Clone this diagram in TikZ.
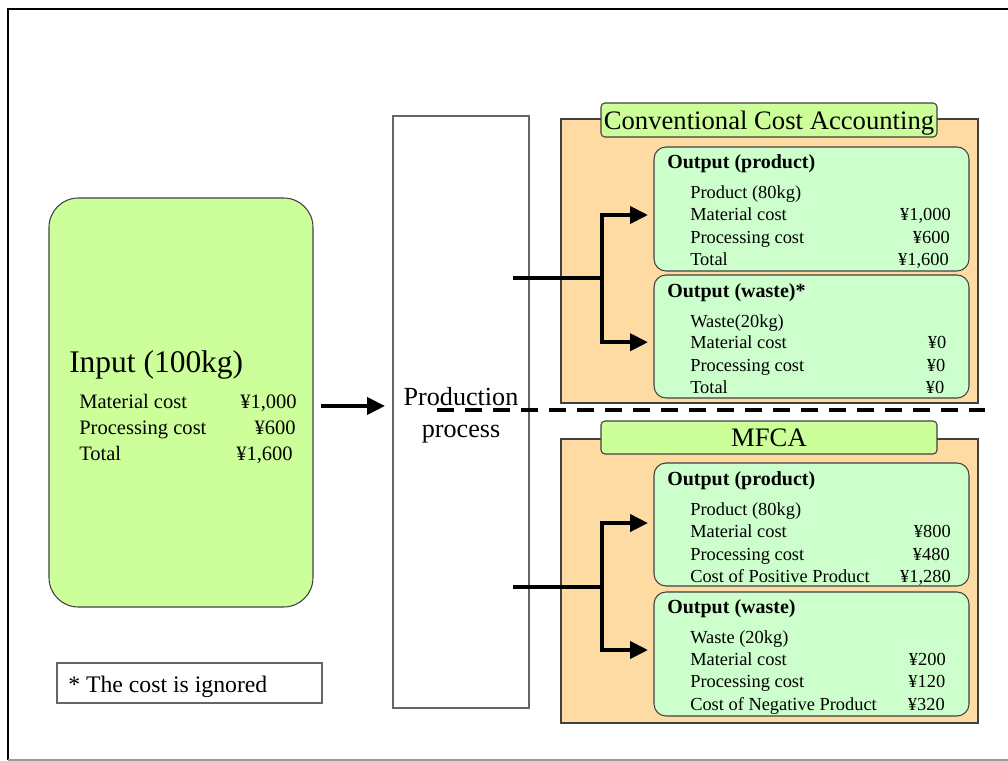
\documentclass[tikz,border=0pt]{standalone}
\usepackage{fontspec}
\setmainfont{Liberation Serif}
\usetikzlibrary{arrows.meta}
\definecolor{ingreen}{HTML}{CCFF99}
\definecolor{outgreen}{HTML}{CCFFCC}
\definecolor{peach}{HTML}{FFDBA4}
\definecolor{edge}{HTML}{404040}
\newcommand\fsz[1]{\fontsize{#1}{#1}\selectfont}
% one line of a cost list: label on the left, amount flush right
% optional argument: style prefix (row -> rowl/rowr, inrow -> inrowl/inrowr)
\newcommand\costrow[7][row]{%
  \node[#1l] (#2l) at (#3,#5) {#6};
  \node[#1r] (#2v) at (#4,#5) {#7};}
\begin{document}
\begin{tikzpicture}[x=0.75pt,y=-0.75pt,
  box/.style={draw=edge, line width=0.8pt, inner sep=0pt, outer sep=0pt, anchor=center},
  inputbox/.style={box, fill=ingreen, rounded corners=22pt},
  procbox/.style={box, draw=black!60, fill=white},
  panel/.style={box, fill=peach},
  tabbox/.style={box, fill=ingreen, rounded corners=3pt},
  outbox/.style={box, fill=outgreen, rounded corners=9pt},
  notebox/.style={box, draw=black!60, fill=white},
  rowl/.style={anchor=base west, inner sep=0pt, font=\fsz{13.8}},
  rowr/.style={anchor=base east, inner sep=0pt, font=\fsz{13.8}},
  inrowl/.style={anchor=base west, inner sep=0pt, font=\fsz{15.4}},
  inrowr/.style={anchor=base east, inner sep=0pt, font=\fsz{15.4}},
  outtitle/.style={anchor=base west, inner sep=0pt, font=\fsz{15}\bfseries},
  tabtitle/.style={anchor=base, inner sep=0pt, font=\fsz{20}},
  conn/.style={line width=3pt},
  arr/.style={conn, -{Triangle[length=13.5pt,width=12.75pt]}},
  divider/.style={line width=3pt, dash pattern=on 12.75pt off 8.25pt},
]
\path[use as bounding box] (0,0) rectangle (1008,761);
\clip (0,0) rectangle (1008,761);

% page frame
\draw[line width=2pt] (1020,9) -- (8,9) -- (8,760);
\draw[line width=1pt, black!40] (8,760) -- (1020,760);

% input and process
\node[inputbox, minimum width=198pt, minimum height=306.75pt] (inp) at (181,402.5) {};
\node[procbox, minimum width=102pt, minimum height=444pt] (prod) at (461,412) {};

% the two accounting panels with their title tabs
\node[panel, minimum width=312.75pt, minimum height=213pt] (convpanel) at (769.5,261) {};
\node[panel, minimum width=312.75pt, minimum height=213pt] (mfcapanel) at (769.5,581) {};
\node[tabbox, minimum width=252pt, minimum height=25.5pt] (convtab) at (769,120) {};
\node[tabbox, minimum width=252pt, minimum height=24.75pt] (mfcatab) at (769,437.5) {};

% output boxes
\node[outbox, minimum width=236.25pt, minimum height=93pt] (cprod) at (811.5,209) {};
\node[outbox, minimum width=236.25pt, minimum height=92.25pt] (cwaste) at (811.5,336.5) {};
\node[outbox, minimum width=236.25pt, minimum height=92.25pt] (mprod) at (811.5,524.5) {};
\node[outbox, minimum width=236.25pt, minimum height=93pt] (mwaste) at (811.5,654) {};

% footnote
\node[notebox, minimum width=198.75pt, minimum height=30pt] (note) at (189.5,683) {};
\node[anchor=base west, inner sep=0pt, font=\fsz{17.8}] (notetext) at (68,692) {* The cost is ignored};

% flows
\draw[arr, shorten <=6pt, shorten >=6pt] ([yshift=-2.6pt]inp.east) -- ([yshift=-2.6pt]inp.east -| prod.west);

\coordinate (cs) at (513,278);
\coordinate (cj) at (602,278);
\draw[conn] (cs) -- (cj);
\draw[arr, shorten >=4.5pt] (cj) |- ([yshift=-4.5pt]cprod.west);
\draw[arr, shorten >=4.5pt] (cj) |- ([yshift=-4.3pt]cwaste.west);

\coordinate (ms) at (513,587);
\coordinate (mj) at (602,587);
\draw[conn] (ms) -- (mj);
\draw[arr, shorten >=4.5pt] (mj) |- ([yshift=1.1pt]mprod.west);
\draw[arr, shorten >=4.5pt] (mj) |- ([yshift=3pt]mwaste.west);

% input text
\node[anchor=base west, inner sep=0pt, font=\fsz{23.6}] (intitle) at (69,372) {Input (100kg)};
\costrow[inrow]{inmat}{79}{297}{408}{Material cost}{¥1,000}
\costrow[inrow]{inproc}{79}{296}{434.5}{Processing cost}{¥600}
\costrow[inrow]{intot}{79}{293}{460}{Total}{¥1,600}

% process text
\node[anchor=base, inner sep=0pt, font=\fsz{19.6}] (prodA) at (461,405) {Production};
\node[anchor=base, inner sep=0pt, font=\fsz{19.6}] (prodB) at (461,437) {process};

% tab titles
\node[tabtitle] (convtitle) at (769,129.5) {Conventional Cost Accounting};
\node[tabtitle] (mfcatitle) at (769,446.5) {MFCA};

% conventional: product
\node[outtitle] (cpt) at (667,168) {Output (product)};
\node[rowl] (cpi) at (690,198) {Product (80kg)};
\costrow{cpm}{690}{951}{220}{Material cost}{¥1,000}
\costrow{cpp}{690}{950}{243}{Processing cost}{¥600}
\costrow{cpx}{690}{949}{265}{Total}{¥1,600}

% conventional: waste
\node[outtitle] (cwt) at (667,297) {Output (waste)*};
\node[rowl] (cwi) at (690,327) {Waste(20kg)};
\costrow{cwm}{690}{946.5}{348}{Material cost}{¥0}
\costrow{cwp}{690}{945.5}{371}{Processing cost}{¥0}
\costrow{cwx}{690}{944.5}{393}{Total}{¥0}

% MFCA: product
\node[outtitle] (mpt) at (667,485.5) {Output (product)};
\node[rowl] (mpi) at (690,515) {Product (80kg)};
\costrow{mpm}{690}{951}{537}{Material cost}{¥800}
\costrow{mpp}{690}{950}{560}{Processing cost}{¥480}
\costrow{mpx}{690}{951}{582}{Cost of Positive Product}{¥1,280}

% MFCA: waste
\node[outtitle] (mwt) at (667,613.5) {Output (waste)};
\node[rowl] (mwi) at (690,643) {Waste (20kg)};
\costrow{mwm}{690}{946}{665}{Material cost}{¥200}
\costrow{mwp}{690}{945.5}{687}{Processing cost}{¥120}
\costrow{mwx}{690}{945}{710}{Cost of Negative Product}{¥320}

% divider between the two methods
\coordinate (da) at (437,410);
\coordinate (db) at (985,410);
\draw[divider] (da) -- (db);
\end{tikzpicture}
\end{document}
